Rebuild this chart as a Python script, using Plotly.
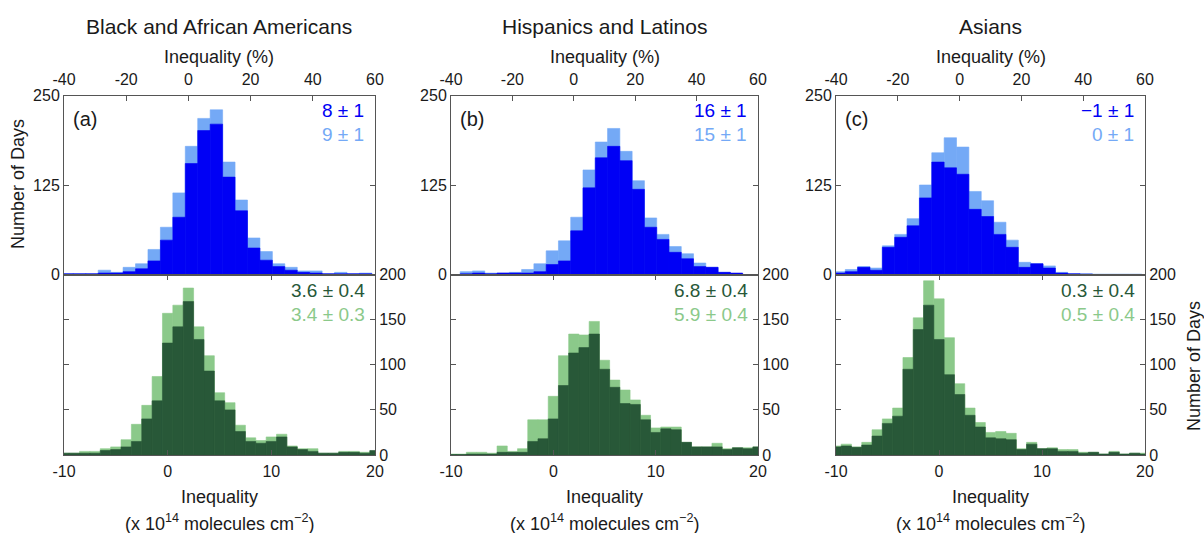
import plotly.graph_objects as go

# ---------------- data ----------------
groups = ["Black and African Americans", "Hispanics and Latinos", "Asians"]
panel_labels = ["(a)", "(b)", "(c)"]

# Inequality (%) histogram bin centres (4 % wide bins)
pct_bins = [-39, -35, -31, -27, -23, -19, -15, -11, -7, -3, 1, 5, 9, 13,
            17, 21, 25, 29, 33, 37, 41, 45, 49, 53, 57]
# absolute inequality histogram bin centres (1 x 10^14 molecules cm^-2 wide bins)
abs_bins = [-10, -9, -8, -7, -6, -5, -4, -3, -2, -1, 0, 1, 2, 3, 4, 5, 6, 7,
            8, 9, 10, 11, 12, 13, 14, 15, 16, 17, 18, 19, 20]

# percent inequality, light (behind) and dark (front) series
black_pct_light = [1, 1, 1, 6, 3, 10, 15, 35, 66, 114, 179, 218, 230, 157,
                   104, 51, 32, 15, 10, 5, 5, 1, 3, 1, 2]
black_pct_dark = [1, 1, 1, 2, 2, 4, 8, 19, 48, 80, 155, 201, 210, 136,
                  89, 37, 20, 11, 6, 3, 2, 1, 1, 1, 1]
hisp_pct_light = [0, 4, 5, 2, 2, 3, 7, 15, 33, 47, 80, 146, 185, 204,
                  172, 131, 79, 56, 39, 29, 16, 10, 3, 1, 0]
hisp_pct_dark = [0, 1, 2, 1, 2, 2, 2, 4, 14, 19, 61, 121, 163, 179,
                 159, 119, 66, 49, 31, 22, 11, 10, 3, 2, 0]
asian_pct_light = [4, 7, 11, 9, 40, 56, 78, 125, 170, 191, 178, 116, 103, 73,
                   48, 17, 15, 12, 3, 1, 1, 0.5, 0.5, 0.5, 0.5]
asian_pct_dark = [2, 4, 10, 6, 38, 52, 68, 107, 157, 149, 140, 91, 81, 56,
                  38, 10, 15, 9, 2, 1, 0.5, 0, 0, 0, 0]

# absolute inequality, light (behind) and dark (front) series
black_abs_light = [2, 2, 4, 4, 7, 9, 17, 34, 55, 87, 157, 166, 185, 142, 110,
                   69, 58, 33, 19, 16, 20, 23, 10, 7, 7, 2, 2, 4, 4, 3, 4]
black_abs_dark = [2, 2, 2, 2, 5, 6, 9, 15, 40, 60, 124, 142, 170, 128, 93,
                  60, 50, 26, 15, 13, 15, 20, 9, 6, 4, 2, 2, 3, 3, 2, 5]
hisp_abs_light = [1, 1, 3, 3, 2, 10, 4, 7, 39, 39, 65, 110, 134, 133, 148,
                  105, 83, 72, 61, 44, 30, 31, 31, 14, 9, 9, 13, 7, 8, 8, 9]
hisp_abs_dark = [0.5, 0.5, 1, 1, 1, 3, 3, 3, 15, 18, 40, 77, 113, 119, 134,
                 95, 75, 57, 56, 39, 25, 29, 28, 14, 9, 9, 9, 6, 8, 7, 9]
asian_abs_light = [10, 12, 9, 14, 28, 40, 52, 108, 152, 193, 173, 130, 79, 52,
                   36, 25, 26, 24, 7, 14, 7, 8, 6, 6, 3, 3, 1, 4, 1, 2, 2]
asian_abs_dark = [9, 10, 8.5, 11, 21, 35, 43, 95, 139, 166, 128, 89, 67, 44,
                  31, 19, 18, 17, 6, 12, 7, 7, 4, 4, 2, 3, 1, 3, 1, 2, 1]

pct_stats_dark = ["8 ± 1", "16 ± 1", "−1 ± 1"]
pct_stats_light = ["9 ± 1", "15 ± 1", "0 ± 1"]
abs_stats_dark = ["3.6 ± 0.4", "6.8 ± 0.4", "0.3 ± 0.4"]
abs_stats_light = ["3.4 ± 0.3", "5.9 ± 0.4", "0.5 ± 0.4"]

pct_ticks = [-40, -20, 0, 20, 40, 60]
pct_tick_labels = ["-40", "-20", "0", "20", "40", "60"]
abs_ticks = [-10, 0, 10, 20]
abs_tick_labels = ["-10", "0", "10", "20"]
top_days_ticks = [0, 125, 250]
bottom_days_ticks = [0, 50, 100, 150, 200]

pct_light = [black_pct_light, hisp_pct_light, asian_pct_light]
pct_dark = [black_pct_dark, hisp_pct_dark, asian_pct_dark]
abs_light = [black_abs_light, hisp_abs_light, asian_abs_light]
abs_dark = [black_abs_dark, hisp_abs_dark, asian_abs_dark]

# ---------------- style ----------------
DARK_BLUE = "#0000F5"
LIGHT_BLUE = "#74A9F6"
DARK_GREEN = "#285838"
LIGHT_GREEN = "#8BC98A"
AX = "#555555"
TXT = "#1a1a1a"
FONT = "Liberation Sans, Arial, Helvetica, sans-serif"

W, H = 1204, 533
def fx(px):
    return px / W
def fy(py):
    return 1 - py / H

panel_x = [(64, 375), (451, 758), (836, 1145)]
Y_TOP, Y_MID, Y_BOT = 95.5, 274.5, 455

fig = go.Figure()
layout = {}
annotations = []

def bar(x, y, w, color, xa, ya):
    return go.Bar(x=x, y=y, width=w,
                  marker=dict(color=color, line=dict(width=0.6, color=color)),
                  xaxis=xa, yaxis=ya, hoverinfo="skip")

for i in range(3):
    nt, nb = 2 * i + 1, 2 * i + 2
    xt = "x" if nt == 1 else f"x{nt}"
    yt = "y" if nt == 1 else f"y{nt}"
    xb, yb = f"x{nb}", f"y{nb}"
    x0, x1 = panel_x[i]

    fig.add_trace(bar(pct_bins, pct_light[i], 4, LIGHT_BLUE, xt, yt))
    fig.add_trace(bar(pct_bins, pct_dark[i], 4, DARK_BLUE, xt, yt))
    fig.add_trace(bar(abs_bins, abs_light[i], 1, LIGHT_GREEN, xb, yb))
    fig.add_trace(bar(abs_bins, abs_dark[i], 1, DARK_GREEN, xb, yb))

    common = dict(showline=True, linecolor=AX, linewidth=1, ticks="inside",
                  ticklen=5, tickcolor=AX, tickwidth=1, showgrid=False,
                  zeroline=False, tickfont=dict(family=FONT, size=16, color=TXT))
    layout["xaxis" if nt == 1 else f"xaxis{nt}"] = dict(
        common, domain=[fx(x0), fx(x1)], anchor=yt, side="top",
        range=[-40, 60], tickvals=pct_ticks, ticktext=pct_tick_labels,
        mirror=True, ticklabelstandoff=3)
    layout["yaxis" if nt == 1 else f"yaxis{nt}"] = dict(
        common, domain=[fy(Y_MID), fy(Y_TOP)], anchor=xt, side="left",
        range=[0, 250], tickvals=top_days_ticks, mirror="ticks")
    layout[f"xaxis{nb}"] = dict(
        common, domain=[fx(x0), fx(x1)], anchor=yb, side="bottom",
        range=[-10, 20], tickvals=abs_ticks, ticktext=abs_tick_labels,
        mirror="ticks", ticklabelstandoff=2)
    layout[f"yaxis{nb}"] = dict(
        common, domain=[fy(Y_BOT), fy(Y_MID)], anchor=xb, side="right",
        range=[0, 200], tickvals=bottom_days_ticks, mirror="ticks")

    cx = (x0 + x1) / 2
    annotations += [
        dict(text=groups[i], x=fx(cx), y=fy(26), font=dict(size=21, color=TXT)),
        dict(text="Inequality (%)", x=fx(cx), y=fy(57), font=dict(size=18, color=TXT)),
        dict(text="Inequality", x=fx(cx), y=fy(497), font=dict(size=18, color=TXT)),
        dict(text="(x 10<sup>14</sup> molecules cm<sup>−2</sup>)", x=fx(cx), y=fy(522),
             font=dict(size=18, color=TXT)),
        dict(text=panel_labels[i], x=fx(x0 + 7), y=fy(119), xanchor="left",
             font=dict(size=20, color=TXT)),
        dict(text=pct_stats_dark[i], x=fx(x1 - 9), y=fy(110), xanchor="right",
             font=dict(size=19, color=DARK_BLUE)),
        dict(text=pct_stats_light[i], x=fx(x1 - 9), y=fy(134), xanchor="right",
             font=dict(size=19, color=LIGHT_BLUE)),
        dict(text=abs_stats_dark[i], x=fx(x1 - 8), y=fy(290), xanchor="right",
             font=dict(size=19, color=DARK_GREEN)),
        dict(text=abs_stats_light[i], x=fx(x1 - 8), y=fy(314), xanchor="right",
             font=dict(size=19, color=LIGHT_GREEN)),
    ]

annotations += [
    dict(text="Number of Days", x=fx(18), y=fy(184), textangle=-90,
         font=dict(size=18, color=TXT)),
    dict(text="Number of Days", x=fx(1194), y=fy(366), textangle=-90,
         font=dict(size=18, color=TXT)),
]
for a in annotations:
    a.update(xref="paper", yref="paper", showarrow=False)
    a.setdefault("xanchor", "center")
    a["yanchor"] = "middle"
    a["font"]["family"] = FONT

fig.update_layout(
    width=W, height=H, margin=dict(l=0, r=0, t=0, b=0, autoexpand=False),
    paper_bgcolor="white", plot_bgcolor="white", showlegend=False,
    barmode="overlay", font=dict(family=FONT, color=TXT),
    annotations=annotations, **layout)

fig.write_html(
    "out.html",
    config={"displayModeBar": False},
    post_script="document.body.style.margin='0';document.body.style.overflow='hidden';")
